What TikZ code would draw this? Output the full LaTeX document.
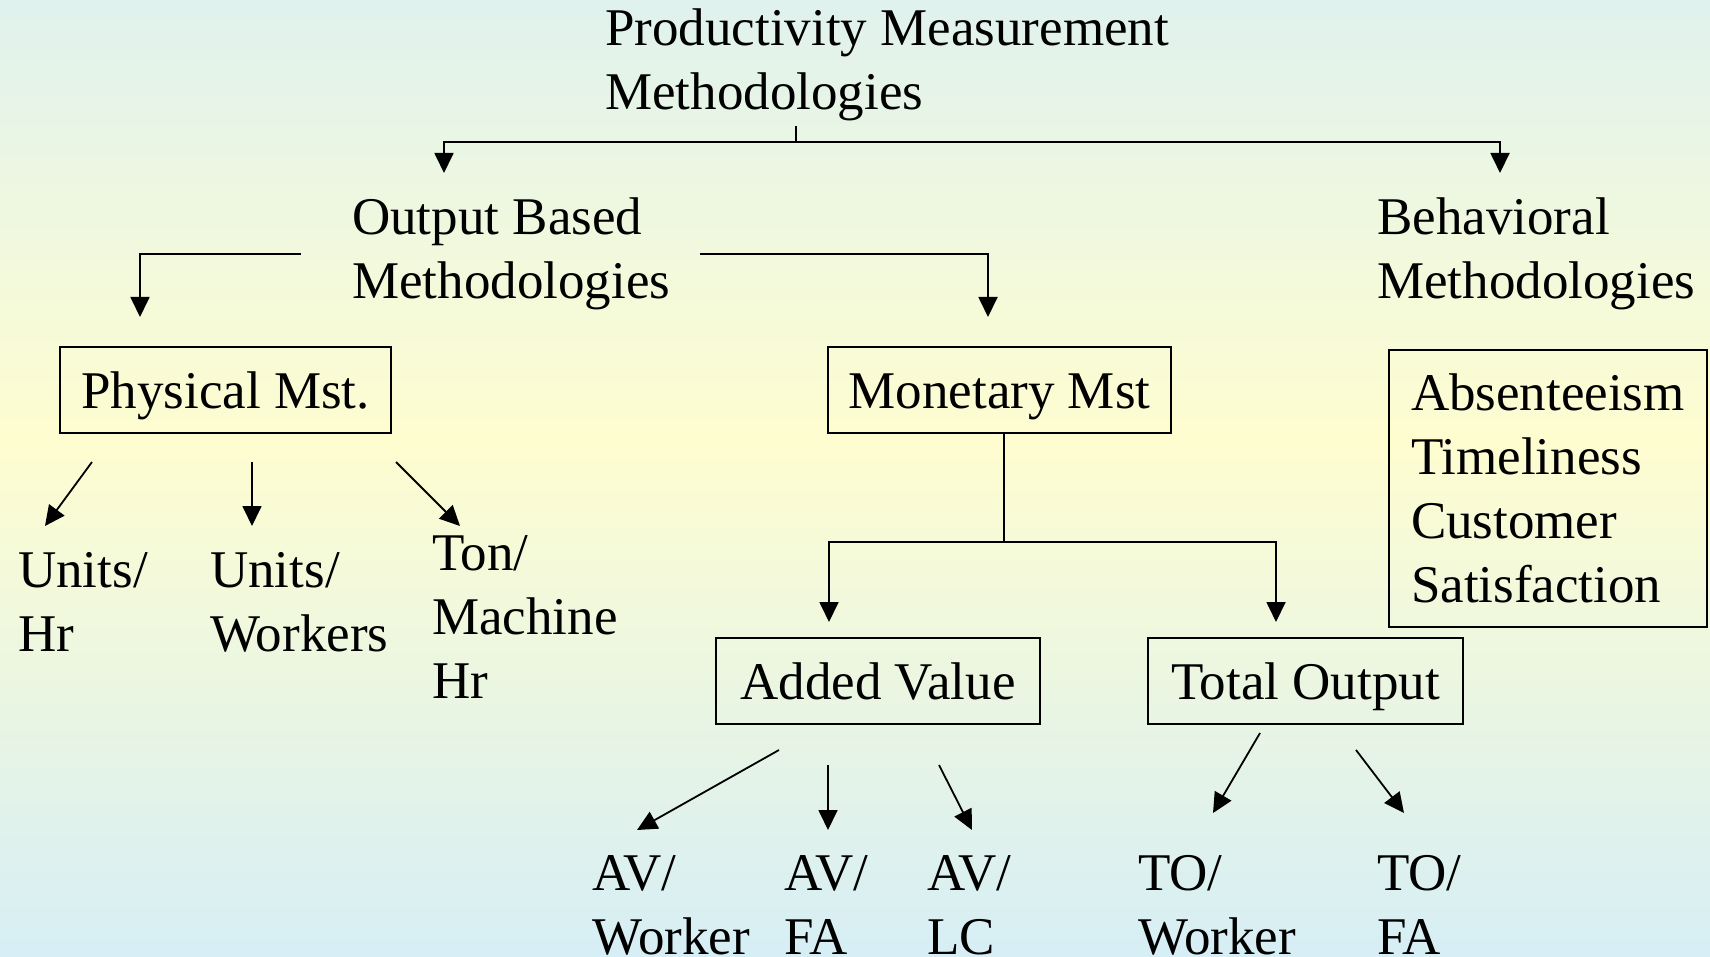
\documentclass[tikz,border=0pt]{standalone}
\usepackage{fontspec}
\setmainfont{Liberation Serif}
\usetikzlibrary{arrows.meta}
\definecolor{bgtop}{RGB}{224,242,238}
\definecolor{bgmid}{RGB}{254,253,208}
\definecolor{bgbot}{RGB}{214,238,245}
\newcommand\chartfont{\fontsize{53pt}{64pt}\selectfont}
\begin{document}
\begin{tikzpicture}[x=1pt,y=-1pt,
  lbl/.style={font=\chartfont, inner sep=0pt, align=left},
  box/.style={draw, line width=2pt, font=\chartfont, inner sep=0pt,
    minimum height=86pt, text height=36pt, text depth=0pt},
  conn/.style={line width=1.8pt},
  arr/.style={conn, -{Triangle[length=20pt,width=19pt]}}]
% background
\useasboundingbox (0,0) rectangle (1710,957);
\shade[top color=bgtop, bottom color=bgmid] (0,0) rectangle (1710,440);
\shade[top color=bgmid, bottom color=bgbot] (0,440) rectangle (1710,957);
\begin{scope}
\clip (0,0) rectangle (1710,957);
% headings (base anchor = baseline of the last line)
\node[lbl, anchor=base west] (root) at (605,110) {Productivity Measurement\\Methodologies};
\node[lbl, anchor=base west] (outb) at (352,299) {Output Based\\Methodologies};
\node[lbl, anchor=base west] (behv) at (1377,299) {Behavioral\\Methodologies};
% boxes
\node[box, minimum width=331pt] (phys) at (225.5,390) {Physical Mst.};
\node[box, minimum width=343pt] (mon) at (999.5,390) {Monetary Mst};
\node[box, minimum width=324pt] (av) at (878,681) {Added Value};
\node[box, minimum width=315pt] (to) at (1305.5,681) {Total Output};
\node[lbl, draw, line width=2pt, anchor=west, inner xsep=22pt, inner ysep=0pt,
  minimum height=277pt] (behlist) at (1388,488.5)
  {Absenteeism\\Timeliness\\Customer\\Satisfaction};
% leaves
\node[lbl, anchor=base west] (uhr) at (18,651) {Units/\\Hr};
\node[lbl, anchor=base west] (uwk) at (210,651) {Units/\\Workers};
\node[lbl, anchor=base west] (ton) at (432,698) {Ton/\\Machine\\Hr};
\node[lbl, anchor=base west] (avw) at (592,954) {AV/\\Worker};
\node[lbl, anchor=base west] (avf) at (784,954) {AV/\\FA};
\node[lbl, anchor=base west] (avl) at (927,954) {AV/\\LC};
\node[lbl, anchor=base west] (tow) at (1138,954) {TO/\\Worker};
\node[lbl, anchor=base west] (tof) at (1377,954) {TO/\\FA};
% connector points
\coordinate (rstem) at (796,126);
\coordinate (rjoin) at (796,142);
\coordinate (outtip) at (444,173);
\coordinate (behtip) at (1500,173);
\coordinate (obl) at (301,254);
\coordinate (obr) at (700,254);
\coordinate (phystip) at (140,317);
\coordinate (montip) at (988,317);
\coordinate (p1a) at (92,462);   \coordinate (p1b) at (45,526);
\coordinate (p2a) at (252,462);  \coordinate (p2b) at (252,526);
\coordinate (p3a) at (396,462);  \coordinate (p3b) at (460,526);
\coordinate (mstem) at (1004,433);
\coordinate (mjoin) at (1004,542);
\coordinate (avtip) at (829,622);
\coordinate (totip) at (1276,622);
\coordinate (a1a) at (779,750);  \coordinate (a1b) at (637,830);
\coordinate (a2a) at (828,765);  \coordinate (a2b) at (828,830);
\coordinate (a3a) at (939,765);  \coordinate (a3b) at (972,830);
\coordinate (t1a) at (1260,733); \coordinate (t1b) at (1213,813);
\coordinate (t2a) at (1356,750); \coordinate (t2b) at (1404,813);
% connectors
\draw[conn] (rstem) -- (rjoin);
\draw[arr] (rjoin) -| (outtip);
\draw[arr] (rjoin) -| (behtip);
\draw[arr] (obl) -| (phystip);
\draw[arr] (obr) -| (montip);
\draw[arr] (p1a) -- (p1b);
\draw[arr] (p2a) -- (p2b);
\draw[arr] (p3a) -- (p3b);
\draw[conn] (mstem) -- (mjoin);
\draw[arr] (mjoin) -| (avtip);
\draw[arr] (mjoin) -| (totip);
\draw[arr] (a1a) -- (a1b);
\draw[arr] (a2a) -- (a2b);
\draw[arr] (a3a) -- (a3b);
\draw[arr] (t1a) -- (t1b);
\draw[arr] (t2a) -- (t2b);
\end{scope}
\end{tikzpicture}
\end{document}
